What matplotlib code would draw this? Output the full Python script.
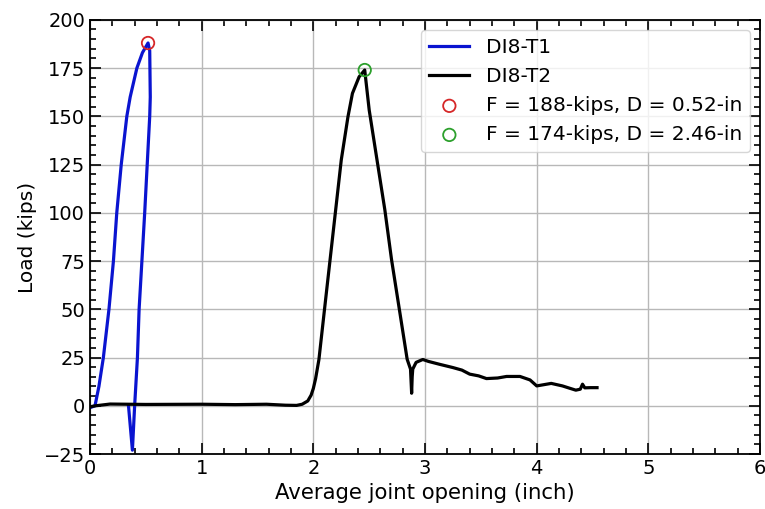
import numpy as np
import matplotlib
matplotlib.use("Agg")
import matplotlib.pyplot as plt
from matplotlib.ticker import MultipleLocator

# DI8-T1 : load vs average joint opening
t1_disp = [0.0, 0.045, 0.08, 0.12, 0.17, 0.21, 0.24, 0.28, 0.33, 0.36, 0.42, 0.47, 0.52,
           0.535, 0.54, 0.535, 0.49, 0.44, 0.425, 0.40, 0.38, 0.345]
t1_load = [-1.0, 0.0, 10.0, 25.0, 50.0, 75.0, 100.0, 125.0, 150.0, 160.0, 175.0, 183.0, 188.0,
           184.0, 160.0, 150.0, 100.0, 50.0, 25.0, 0.0, -23.0, 0.0]

# DI8-T2
t2_disp = [0.0, 0.05, 0.18, 0.5, 1.0, 1.3, 1.58, 1.75, 1.85, 1.90, 1.95, 1.98, 2.0, 2.02, 2.05,
           2.10, 2.15, 2.20, 2.25, 2.31, 2.35, 2.41, 2.46,
           2.50, 2.57, 2.64, 2.70, 2.77, 2.84, 2.87, 2.88, 2.885, 2.89, 2.92, 2.98, 3.03,
           3.13, 3.25, 3.33, 3.40, 3.48, 3.55, 3.65, 3.73, 3.85, 3.94, 4.00, 4.07, 4.13,
           4.23, 4.30, 4.35, 4.39, 4.41, 4.43, 4.48, 4.54]
t2_load = [-0.5, 0.0, 0.9, 0.7, 0.8, 0.6, 0.8, 0.3, 0.2, 0.8, 2.5, 5.5, 9.0, 14.0, 24.0,
           50.0, 75.8, 101.6, 127.4, 149.8, 161.9, 170.5, 174.0,
           153.3, 127.4, 101.6, 75.8, 50.0, 24.1, 19.0, 6.5, 15.0, 19.0, 22.5, 24.0, 23.0,
           21.5, 19.8, 18.5, 16.4, 15.5, 14.1, 14.4, 15.2, 15.2, 13.4, 10.3, 11.0, 11.6,
           10.3, 9.0, 8.1, 8.6, 11.2, 9.3, 9.4, 9.4]

# peak points
peak_disp = [0.52, 2.46]
peak_load = [188, 174]
peak_colors = ["tab:red", "tab:green"]

fig = plt.figure(figsize=(7.65, 5.09), dpi=100)
ax = fig.add_axes([0.1176, 0.108, 0.876, 0.853])

ax.plot(t1_disp, t1_load, color="#0a14d0", lw=2.3, label="DI8-T1")
ax.plot(t2_disp, t2_load, color="black", lw=2.3, label="DI8-T2")
for d, f, c in zip(peak_disp, peak_load, peak_colors):
    ax.scatter(d, f, s=80, facecolors="none", edgecolors=c, linewidths=1.3, zorder=3,
               label="F = %d-kips, D = %.2f-in" % (f, d))

ax.set_xlim(0, 6)
ax.set_ylim(-25, 200)
ax.xaxis.set_major_locator(MultipleLocator(1))
ax.xaxis.set_minor_locator(MultipleLocator(0.2))
ax.yaxis.set_major_locator(MultipleLocator(25))
ax.yaxis.set_minor_locator(MultipleLocator(5))
ax.tick_params(which="both", direction="in", top=True, right=True, labelsize=14, width=1.2)
ax.tick_params(which="major", length=8)
ax.tick_params(which="minor", length=4.5)
for s in ax.spines.values():
    s.set_linewidth(1.3)
ax.grid(True, which="major", color="#b8b8b8", lw=1.0)

ax.set_xlabel("Average joint opening (inch)", fontsize=15.3, labelpad=4)
ax.set_ylabel("Load (kips)", fontsize=14.5, labelpad=5)
ax.legend(loc="upper right", fontsize=14.5, scatterpoints=1,
          handletextpad=0.8, labelspacing=0.5)

fig.savefig("out.png", dpi=100)
